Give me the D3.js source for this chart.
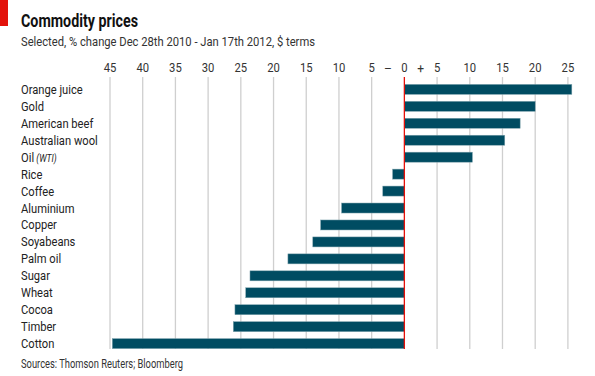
<!DOCTYPE html>
<html><head><meta charset="utf-8">
<script src="https://cdn.jsdelivr.net/npm/d3@7"></script>
<style>body{margin:0;background:#fff}svg{display:block}text{font-family:Roboto,"Open Sans",sans-serif;fill:#222}</style>
</head><body><svg id="c" width="595" height="376"></svg>
<script>
const categories = ["Orange juice","Gold","American beef","Australian wool","Oil","Rice","Coffee","Aluminium","Copper","Soyabeans","Palm oil","Sugar","Wheat","Cocoa","Timber","Cotton"];
const values = [25.6,20.0,17.7,15.35,10.4,-1.8,-3.3,-9.6,-12.8,-14.0,-17.8,-23.6,-24.25,-25.9,-26.15,-44.65];
const tickValues = [-45,-40,-35,-30,-25,-20,-15,-10,-5,0,5,10,15,20,25];
const tickLabels = ["45","40","35","30","25","20","15","10","5","0","5","10","15","20","25"];

const svg = d3.select("#c");
const x = d3.scaleLinear().domain([-45,25]).range([110,567.9]);
const y = d3.scaleBand().domain(categories).range([80.9,352.1]).paddingInner(0.41).paddingOuter(0.205);

svg.append("rect").attr("x",0).attr("y",0).attr("width",8).attr("height",26).attr("fill","#e3120b");
svg.append("text").attr("x",21).attr("y",27).attr("font-size",17.5).attr("font-weight","bold").style("fill","#111")
  .attr("textLength",117).attr("lengthAdjust","spacingAndGlyphs").text("Commodity prices");
svg.append("text").attr("x",21).attr("y",45.5).attr("font-size",13.5).style("fill","#333")
  .attr("textLength",294).attr("lengthAdjust","spacingAndGlyphs").text("Selected, % change Dec 28th 2010 - Jan 17th 2012, $ terms");

// grid
const g = svg.append("g");
g.selectAll("line.grid").data(tickValues.filter(d=>d!==0)).enter().append("line")
  .attr("x1",d=>x(d)).attr("x2",d=>x(d)).attr("y1",77).attr("y2",349)
  .attr("stroke","#cfcfcf").attr("stroke-width",1.3);

g.selectAll("text.tick").data(tickValues).enter().append("text")
  .attr("x",d=>x(d)).attr("y",72.5).attr("text-anchor","middle").attr("font-size",12.5).style("fill","#333")
  .attr("transform",d=>`translate(${x(d)},0) scale(0.9,1) translate(${-x(d)},0)`)
  .text((d,i)=>tickLabels[i]);
svg.append("text").attr("x",(x(-5)+x(0))/2).attr("y",72.5).attr("text-anchor","middle").attr("font-size",12).style("fill","#333").text("–");
svg.append("text").attr("x",(x(0)+x(5))/2).attr("y",72.5).attr("text-anchor","middle").attr("font-size",12).style("fill","#333").text("+");

// bars
svg.selectAll("rect.bar").data(values).enter().append("rect")
  .attr("x",d=>x(Math.min(0,d))).attr("width",d=>Math.abs(x(d)-x(0)))
  .attr("y",(d,i)=>y(categories[i])).attr("height",y.bandwidth())
  .attr("fill","#004c62").attr("stroke","#7fa3ad").attr("stroke-width",0.5);

// zero line
svg.append("line").attr("x1",x(0)).attr("x2",x(0)).attr("y1",77).attr("y2",349).attr("stroke","#e3120b").attr("stroke-width",1.3);

// labels
const labG = svg.append("g").attr("transform","translate(21,0) scale(0.86,1)");
const lab = labG.selectAll("text.lab").data(categories).enter().append("text")
  .attr("x",0).attr("y",d=>y(d)+y.bandwidth()/2+4.5).attr("font-size",13).style("fill","#222");
lab.each(function(d){
  const t=d3.select(this);
  t.append("tspan").text(d);
  if(d==="Oil"){ t.append("tspan").attr("font-style","italic").attr("font-size",10).text(" (WTI)"); }
});

svg.append("text").attr("x",21).attr("y",368).attr("font-size",12).style("fill","#333")
  .attr("textLength",162).attr("lengthAdjust","spacingAndGlyphs").text("Sources: Thomson Reuters; Bloomberg");
</script></body></html>
